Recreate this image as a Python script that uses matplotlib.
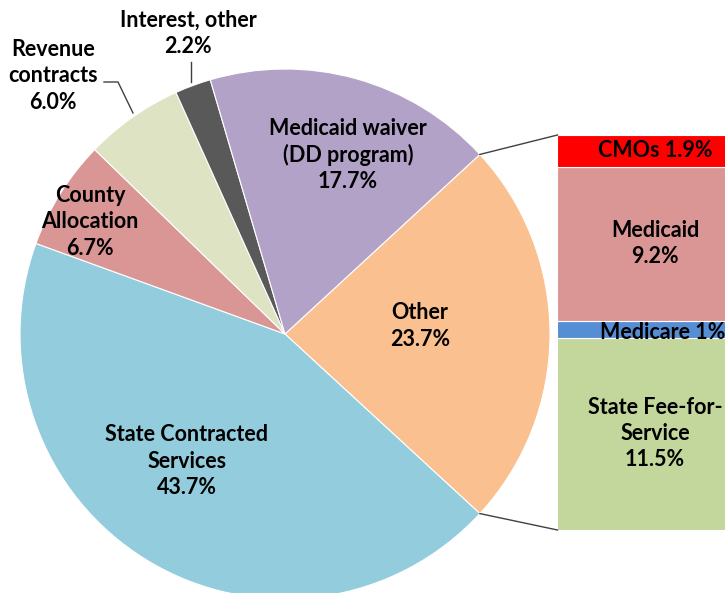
import matplotlib.pyplot as plt
import numpy as np

# pie slices, clockwise from "Other"
pie_labels = ['Other', 'State Contracted\nServices', 'County\nAllocation',
              'Revenue\ncontracts', 'Interest, other', 'Medicaid waiver\n(DD program)']
pie_values = [23.7, 43.7, 6.7, 6.0, 2.2, 17.7]
pie_colors = ['#FAC090', '#93CDDD', '#D99694', '#DDE3C3', '#595959', '#B3A2C7']

# breakdown of "Other", bottom to top
bar_labels = ['State Fee-for-\nService', 'Medicare', 'Medicaid', 'CMOs']
bar_values = [11.5, 1.0, 9.2, 1.9]
bar_colors = ['#C3D69B', '#558ED5', '#D99694', '#FF0000']

plt.rcParams['font.family'] = ['Lato', 'DejaVu Sans']
plt.rcParams['font.weight'] = 'bold'

W, H = 725, 593
fig = plt.figure(figsize=(W / 100, H / 100), dpi=100)
ax = fig.add_axes([0, 0, 1, 1])

cx, cy, r = 285, H - 334, 265
start = 360 * pie_values[0] / 100 / 2
wedges, _ = ax.pie(pie_values, colors=pie_colors, startangle=start, counterclock=False,
                   center=(cx, cy), radius=r, frame=True,
                   wedgeprops=dict(edgecolor='white', linewidth=0.8))

# stacked bar for "Other"
bx, bw = 655, 195
scale = 395 / sum(bar_values)
bottoms = np.concatenate([[0], np.cumsum(bar_values)[:-1]]) * scale + (H - 530)
ax.bar([bx] * len(bar_values), np.array(bar_values) * scale, bottom=bottoms,
       width=bw, color=bar_colors, edgecolor='white', linewidth=0.8)

# connector lines
bar_top = bottoms[-1] + bar_values[-1] * scale
for ang, yb in [(start, bar_top), (-start, bottoms[0])]:
    px = cx + r * np.cos(np.radians(ang))
    py = cy + r * np.sin(np.radians(ang))
    ax.plot([px, bx - bw / 2], [py, yb], color='#404040', lw=1)

fs = 15.5
ls = 1.3
kw = dict(ha='center', va='center', fontsize=fs, fontweight='bold', color='black',
          linespacing=ls)
ax.text(420, H - 326, f'{pie_labels[0]}\n{pie_values[0]}%', **kw)
ax.text(187, H - 461, f'{pie_labels[1]}\n{pie_values[1]}%', **kw)
ax.text(90, H - 222, f'{pie_labels[2]}\n{pie_values[2]}%', **kw)
ax.text(348, H - 155, f'{pie_labels[5]}\n{pie_values[5]}%', **kw)
ax.text(53, H - 76, f'{pie_labels[3]}\n{pie_values[3]}%', **kw)
ax.text(188, H - 33, f'{pie_labels[4]}\n{pie_values[4]}%', **kw)
# leader lines
ax.plot([104, 118, 133], [H - 82, H - 82, H - 113], color='#404040', lw=1)
ax.plot([191, 191], [H - 62, H - 82], color='#404040', lw=1)

# bar labels
for i, (lab, v) in enumerate(zip(bar_labels, bar_values)):
    yc = bottoms[i] + v * scale / 2
    txt = f'{lab} {v:g}%' if v < 5 else f'{lab}\n{v}%'
    ax.text(bx + (8 if lab == 'Medicare' else 0), yc - (3 if lab == 'Medicare' else 0),
            txt, **kw)

ax.set_xlim(0, W)
ax.set_ylim(0, H)
ax.set_aspect('equal')
ax.axis('off')
fig.savefig('out.png', dpi=100)
